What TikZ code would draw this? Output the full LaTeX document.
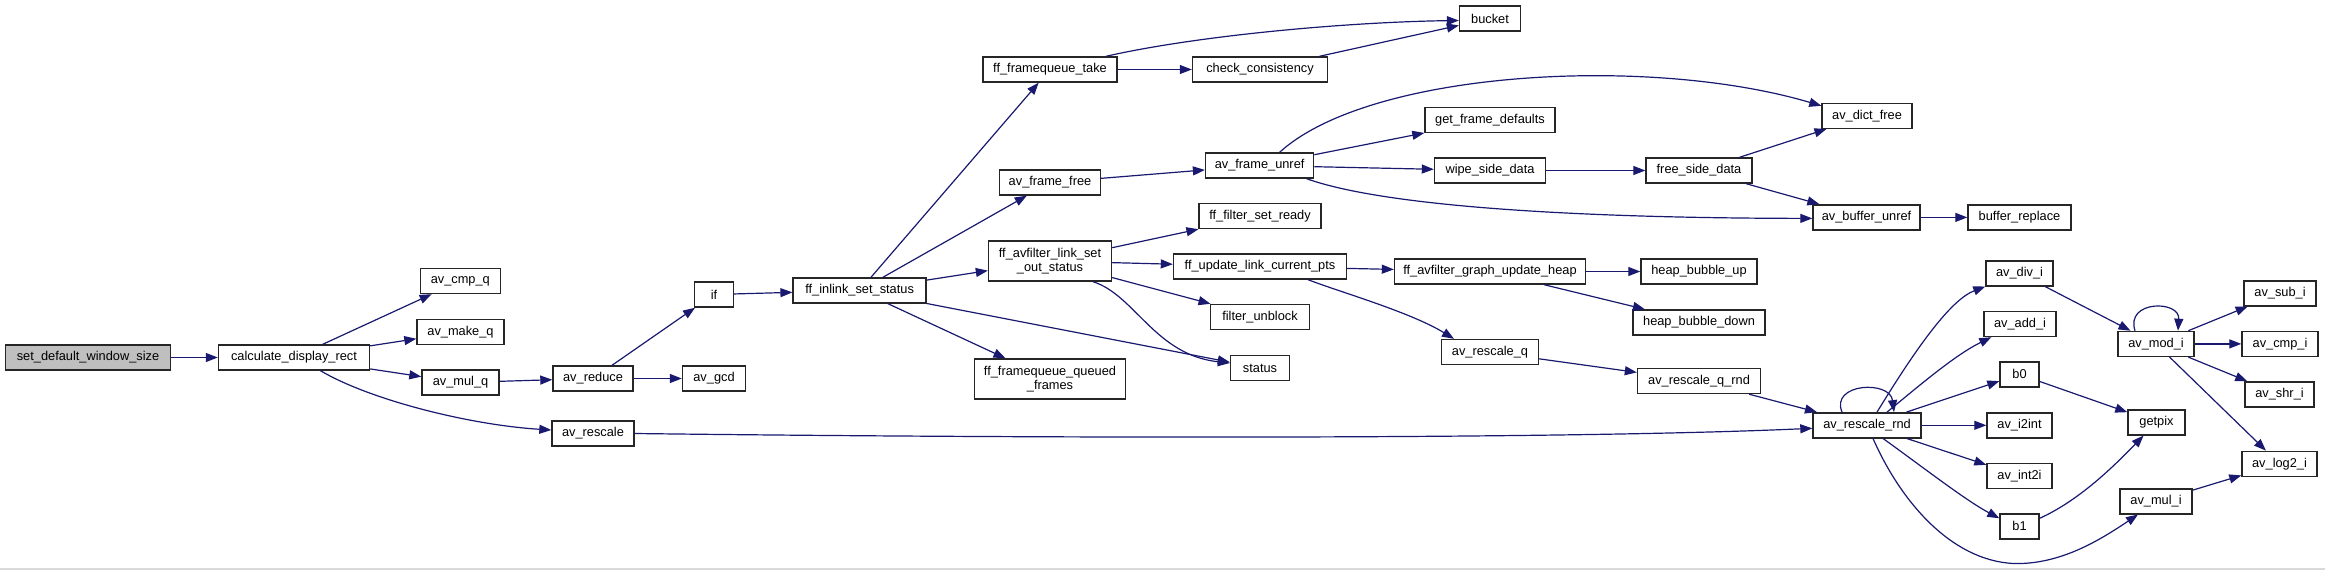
\documentclass[tikz,border=0pt]{standalone}
\usepackage{fontspec}
\setmainfont{Liberation Sans}
\usetikzlibrary{arrows.meta}
\definecolor{edgeblue}{RGB}{25,25,112}
\definecolor{rootgray}{RGB}{191,191,191}
\begin{document}
\begin{tikzpicture}[x=1pt,y=-1pt,
  fn/.style={draw=black!85, line width=1.4pt, fill=white, inner sep=0pt,
    minimum height=25pt, font=\fontsize{12.8}{14.5}\selectfont, align=center},
  cl/.style={draw=edgeblue, line width=1.2pt, -{Triangle[length=12pt,width=9pt]}},
]
\fill[white] (0,0) rectangle (2325,570);
\useasboundingbox (0,0) rectangle (2325,570);
\draw[black!15, line width=1.5pt] (0,569.2) -- (2325,569.2);

% nodes
\node[fn, minimum width=165pt, fill=rootgray] (sdws) at (88,357.5) {set\_default\_window\_size};
\node[fn, minimum width=151pt] (cdr) at (294,357.5) {calculate\_display\_rect};
\node[fn, minimum width=80pt] (avcmpq) at (460.3,281) {av\_cmp\_q};
\node[fn, minimum width=87pt] (avmakeq) at (460.5,332) {av\_make\_q};
\node[fn, minimum width=77pt] (avmulq) at (460.5,382.5) {av\_mul\_q};
\node[fn, minimum width=80pt] (avreduce) at (593,378.5) {av\_reduce};
\node[fn, minimum width=82pt] (avrescale) at (593,433.5) {av\_rescale};
\node[fn, minimum width=63pt] (avgcd) at (714,378.5) {av\_gcd};
\node[fn, minimum width=39pt] (ifn) at (714,294.5) {if};
\node[fn, minimum width=133pt] (ffinlink) at (859.6,290.5) {ff\_inlink\_set\_status};
\node[fn, minimum width=123pt, minimum height=40pt] (ffavlink) at (1050,261) {ff\_avfilter\_link\_set\\\_out\_status};
\node[fn, minimum width=151pt, minimum height=40pt] (ffqueued) at (1050,379) {ff\_framequeue\_queued\\\_frames};
\node[fn, minimum width=134pt] (fftake) at (1050,69.5) {ff\_framequeue\_take};
\node[fn, minimum width=101pt] (avframefree) at (1050,182.5) {av\_frame\_free};
\node[fn, minimum width=61pt] (bucket) at (1490,18.5) {bucket};
\node[fn, minimum width=135pt] (checkcons) at (1260,69.5) {check\_consistency};
\node[fn, minimum width=108pt] (avframeunref) at (1259.6,165.5) {av\_frame\_unref};
\node[fn, minimum width=130pt] (getframedef) at (1490,120) {get\_frame\_defaults};
\node[fn, minimum width=111pt] (wipe) at (1490,170.5) {wipe\_side\_data};
\node[fn, minimum width=106pt] (freeside) at (1699,170.5) {free\_side\_data};
\node[fn, minimum width=90pt] (avdictfree) at (1867,115.8) {av\_dict\_free};
\node[fn, minimum width=107pt] (avbufunref) at (1866.5,217.4) {av\_buffer\_unref};
\node[fn, minimum width=103pt] (bufrepl) at (2019.5,217.4) {buffer\_replace};
\node[fn, minimum width=122pt] (ffsetready) at (1260,216) {ff\_filter\_set\_ready};
\node[fn, minimum width=173pt] (ffupdate) at (1260,266.5) {ff\_update\_link\_current\_pts};
\node[fn, minimum width=99pt] (filterunblock) at (1260,317) {filter\_unblock};
\node[fn, minimum width=59pt] (status) at (1260,368) {status};
\node[fn, minimum width=191pt] (ffgraphheap) at (1490,271.5) {ff\_avfilter\_graph\_update\_heap};
\node[fn, minimum width=116pt] (heapup) at (1699,271.5) {heap\_bubble\_up};
\node[fn, minimum width=132pt] (heapdown) at (1699,322.5) {heap\_bubble\_down};
\node[fn, minimum width=97pt] (avrescaleq) at (1490,352) {av\_rescale\_q};
\node[fn, minimum width=123pt] (avrescaleqrnd) at (1699,381) {av\_rescale\_q\_rnd};
\node[fn, minimum width=108pt] (avrescalernd) at (1867,425.3) {av\_rescale\_rnd};
\node[fn, minimum width=67pt] (avdivi) at (2019.5,273.3) {av\_div\_i};
\node[fn, minimum width=72pt] (avaddi) at (2020,324) {av\_add\_i};
\node[fn, minimum width=39pt] (b0) at (2019.5,374.4) {b0};
\node[fn, minimum width=65pt] (avitoint) at (2019.5,425.3) {av\_i2int};
\node[fn, minimum width=65pt] (avinttoi) at (2019.5,475.8) {av\_int2i};
\node[fn, minimum width=39pt] (b1) at (2019.5,526.3) {b1};
\node[fn, minimum width=76pt] (avmodi) at (2156,343.9) {av\_mod\_i};
\node[fn, minimum width=57pt] (getpix) at (2156.5,422.4) {getpix};
\node[fn, minimum width=72pt] (avmuli) at (2156,501.3) {av\_mul\_i};
\node[fn, minimum width=72pt] (avsubi) at (2280,293.3) {av\_sub\_i};
\node[fn, minimum width=76pt] (avcmpi) at (2280,343.9) {av\_cmp\_i};
\node[fn, minimum width=69pt] (avshri) at (2279.5,394.4) {av\_shr\_i};
\node[fn, minimum width=75pt] (avlogi) at (2279.5,463.8) {av\_log2\_i};

% edges
\draw[cl] (sdws) -- (cdr);
\draw[cl] (cdr) -- (avcmpq);
\draw[cl] (cdr) -- (avmakeq);
\draw[cl] (cdr) -- (avmulq);
\draw[cl] ([xshift=26.5pt]cdr.south) .. controls (370,400) and (470,425) .. ([yshift=3.5pt]avrescale.west);
\draw[cl] (avmulq) -- (avreduce);
\draw[cl] (avreduce) -- (ifn);
\draw[cl] (avreduce) -- (avgcd);
\draw[cl] (avrescale.east) .. controls (1000,438) and (1550,440) .. ([yshift=-3pt]avrescalernd.west);
\draw[cl] (ifn) -- (ffinlink);
\draw[cl] (ffinlink) -- (fftake);
\draw[cl] (ffinlink) -- (avframefree);
\draw[cl] (ffinlink) -- (ffavlink);
\draw[cl] (ffinlink) -- (ffqueued);
\draw[cl] (ffinlink) -- (status);
\draw[cl] ([xshift=56pt]fftake.north) .. controls (1200,35) and (1350,22) .. ([yshift=-2pt]bucket.west);
\draw[cl] (fftake) -- (checkcons);
\draw[cl] (checkcons) -- (bucket);
\draw[cl] (avframefree) -- (avframeunref);
\draw[cl] ([xshift=20pt]avframeunref.north) .. controls (1370,70) and (1650,55) .. ([yshift=10pt]avdictfree.west);
\draw[cl] (avframeunref) -- (getframedef);
\draw[cl] (avframeunref) -- (wipe);
\draw[cl] ([xshift=47pt]avframeunref.south) .. controls (1380,205) and (1560,218) .. ([yshift=-1pt]avbufunref.west);
\draw[cl] (wipe) -- (freeside);
\draw[cl] (freeside) -- (avdictfree);
\draw[cl] (freeside) -- (avbufunref);
\draw[cl] (avbufunref) -- (bufrepl);
\draw[cl] (ffavlink) -- (ffsetready);
\draw[cl] (ffavlink) -- (ffupdate);
\draw[cl] (ffavlink) -- (filterunblock);
\draw[cl] ([xshift=43pt]ffavlink.south) .. controls (1135,295) and (1155,355) .. ([yshift=5pt]status.west);
\draw[cl] (ffupdate) -- (ffgraphheap);
\draw[cl] ([xshift=48pt]ffupdate.south) .. controls (1340,292) and (1410,312) .. ([xshift=-36pt]avrescaleq.north);
\draw[cl] (ffgraphheap) -- (heapup);
\draw[cl] (ffgraphheap) -- (heapdown);
\draw[cl] (avrescaleq) -- (avrescaleqrnd);
\draw[cl] (avrescaleqrnd) -- (avrescalernd);
\draw[cl] ([xshift=-25pt]avrescalernd.north) .. controls (1830,383) and (1890,380) .. ([xshift=27pt]avrescalernd.north);
\draw[cl] ([xshift=10pt]avrescalernd.north) .. controls (1915,350) and (1950,300) .. (avdivi.south west);
\draw[cl] ([xshift=20pt]avrescalernd.north) .. controls (1920,385) and (1955,355) .. ([xshift=8pt]avaddi.south west);
\draw[cl] (avrescalernd) -- (b0);
\draw[cl] (avrescalernd) -- (avitoint);
\draw[cl] (avrescalernd) -- (avinttoi);
\draw[cl] ([xshift=16pt]avrescalernd.south) .. controls (1920,465) and (1965,500) .. ([yshift=8pt]b1.west);
\draw[cl] ([xshift=6pt]avrescalernd.south) .. controls (1900,500) and (1950,560) .. (2013,563.5)
   .. controls (2060,565) and (2100,540) .. ([xshift=-18pt]avmuli.south);
\draw[cl] (avdivi) -- (avmodi);
\draw[cl] ([xshift=-21pt]avmodi.north) .. controls (2125,300) and (2180,300) .. ([xshift=22pt]avmodi.north);
\draw[cl] (avmodi) -- (avsubi);
\draw[cl] (avmodi) -- (avcmpi);
\draw[cl] (avmodi) -- (avshri);
\draw[cl] (avmodi) -- (avlogi);
\draw[cl] (b0) -- (getpix);
\draw[cl] ([yshift=8pt]b1.east) .. controls (2080,500) and (2115,465) .. ([xshift=-13pt]getpix.south);
\draw[cl] (avmuli) -- (avlogi);
\end{tikzpicture}
\end{document}
